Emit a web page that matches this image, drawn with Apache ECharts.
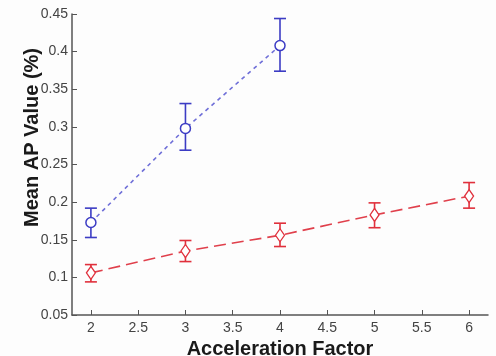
<!DOCTYPE html>
<html><head><meta charset="utf-8">
<script src="https://cdn.jsdelivr.net/npm/echarts@6/dist/echarts.min.js"></script>
<style>html,body{margin:0;padding:0;background:#fdfdfd}#c{width:496px;height:356px}</style>
</head><body><div id="c"></div>
<script>
var xTicks = [2, 2.5, 3, 3.5, 4, 4.5, 5, 5.5, 6];
var blueX = [2, 3, 4];
var blueMean = [0.173, 0.298, 0.408];
var blueLow = [0.153, 0.269, 0.374];
var blueHigh = [0.192, 0.331, 0.444];
var redX = [2, 3, 4, 5, 6];
var redMean = [0.106, 0.135, 0.156, 0.183, 0.208];
var redLow = [0.094, 0.121, 0.141, 0.166, 0.192];
var redHigh = [0.117, 0.149, 0.172, 0.199, 0.226];

function pairs(xs, ys){ return xs.map(function(x,i){return [x, ys[i]];}); }
function bars(xs, lo, hi){ return xs.map(function(x,i){return [x, lo[i], hi[i]];}); }
function errRender(color){
  return function(params, api){
    var x = api.value(0);
    var p1 = api.coord([x, api.value(1)]);
    var p2 = api.coord([x, api.value(2)]);
    var w = 6;
    var st = {stroke: color, lineWidth: 1.6};
    return {type:'group', children:[
      {type:'line', shape:{x1:p1[0],y1:p1[1],x2:p2[0],y2:p2[1]}, style:st},
      {type:'line', shape:{x1:p1[0]-w,y1:p1[1],x2:p1[0]+w,y2:p1[1]}, style:st},
      {type:'line', shape:{x1:p2[0]-w,y1:p2[1],x2:p2[0]+w,y2:p2[1]}, style:st}
    ]};
  };
}
var chart = echarts.init(document.getElementById('c'));
var font = 'Liberation Sans, Arial, sans-serif';
chart.setOption({
  backgroundColor: '#fdfdfd',
  animation: false,
  grid: {left: 72, right: 8, top: 14, bottom: 41, containLabel: false, outerBoundsMode: 'none'},
  xAxis: {
    type: 'value', min: 1.8, max: 6.2,
    name: 'Acceleration Factor', nameLocation: 'middle', nameGap: 20,
    nameTextStyle: {fontFamily: font, fontSize: 20, fontWeight: 'bold', color: '#1a1a1a'},
    axisLine: {lineStyle: {color: '#555', width: 1.5}},
    axisTick: {inside: true, length: 5, lineStyle: {color: '#555'}, customValues: xTicks},
    axisLabel: {fontFamily: font, fontSize: 14, color: '#444', margin: 6, customValues: xTicks},
    splitLine: {show: false}
  },
  yAxis: {
    type: 'value', min: 0.05, max: 0.45, interval: 0.05,
    axisLine: {show: true, lineStyle: {color: '#555', width: 1.5}},
    axisTick: {show: true, inside: true, length: 5, lineStyle: {color: '#555'}},
    axisLabel: {fontFamily: font, fontSize: 14, color: '#444', margin: 4},
    splitLine: {show: false}
  },
  graphic: [{
    type: 'text', left: 22, top: 48, rotation: Math.PI/2,
    style: {text: 'Mean AP Value (%)', font: 'bold 20px ' + font, fill: '#1a1a1a'}
  }],
  series: [
    {type: 'line', data: pairs(blueX, blueMean), symbol: 'circle', symbolSize: 10,
     lineStyle: {color: '#6f6fd8', width: 1.6, type: [4, 4]},
     itemStyle: {color: '#fff', borderColor: '#3c3cc4', borderWidth: 1.5}, z: 3},
    {type: 'custom', data: bars(blueX, blueLow, blueHigh), renderItem: errRender('#3c3cc4'), z: 2},
    {type: 'line', data: pairs(redX, redMean), symbol: 'diamond', symbolSize: [9, 13],
     lineStyle: {color: '#e0404c', width: 1.6, type: [12, 6]},
     itemStyle: {color: '#fff', borderColor: '#e0303c', borderWidth: 1.3}, z: 3},
    {type: 'custom', data: bars(redX, redLow, redHigh), renderItem: errRender('#e0303c'), z: 2}
  ]
});
</script></body></html>
